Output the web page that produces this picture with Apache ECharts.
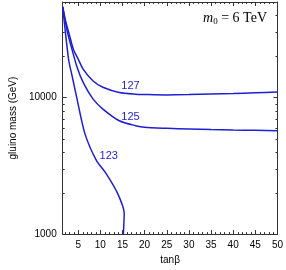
<!DOCTYPE html>
<html>
<head>
<meta charset="utf-8">
<script src="https://cdn.jsdelivr.net/npm/echarts@6/dist/echarts.min.js"></script>
<style>html,body{margin:0;padding:0;background:#fff;}#c{width:286px;height:270px;}</style>
</head>
<body>
<div id="c"></div>
<script>
// ---- data ----
const X_MIN = 1.5, X_MAX = 50;
const Y_MIN = 1000, Y_MAX = 50000;
const xLabels = [5, 10, 15, 20, 25, 30, 35, 40, 45, 50];
const xMinor = [2,3,4,6,7,8,9,11,12,13,14,16,17,18,19,21,22,23,24,26,27,28,29,31,32,33,34,36,37,38,39,41,42,43,44,46,47,48,49];
const yMinor = [2000,3000,4000,5000,6000,7000,8000,9000,20000,30000,40000];

const m127x = [1.5, 2.1, 3, 3.94, 5, 6.15, 8.37, 10.58, 14.28, 17.9, 20, 25, 30, 35, 40, 45, 50];
const m127y = [46000, 37000, 28800, 22400, 19100, 16050, 13200, 11880, 10870, 10570, 10520, 10450, 10500, 10600, 10700, 10820, 10950];
const m125x = [1.5, 2.45, 3.2, 4.67, 6.15, 8.37, 10.58, 14.28, 17.96, 20, 25, 30, 35, 40, 45, 50];
const m125y = [46000, 31300, 25080, 16960, 12850, 9720, 8225, 6760, 6220, 6050, 5950, 5880, 5820, 5780, 5750, 5720];
const m123x = [1.5, 2.83, 3.7, 4.6, 6.53, 9.1, 11.31, 13.9, 15.39, 15.2];
const m123y = [46000, 18970, 14000, 10220, 5414, 3464, 2773, 1985, 1421, 1000];

const curveNames = ['127', '125', '123'];
const labelX = [16.8, 16.8, 11.9];
const labelY = [12080, 7194, 3747];

const LINE_COLOR = '#1f1fd2';
const AXIS_COLOR = '#333';

function zip(xs, ys) { return xs.map((x, i) => [x, ys[i]]); }

function minorTickRender(dim) {
  return function (params, api) {
    const v0 = api.value(0), v1 = api.value(1);
    const L = 2;
    let a, b, c;
    if (dim === 'y') {
      a = api.coord([X_MIN, v1]); b = api.coord([X_MAX, v1]);
      const y = Math.round(a[1]) + 0.5;
      c = [
        { type: 'line', shape: { x1: a[0], y1: y, x2: a[0] + L, y2: y } },
        { type: 'line', shape: { x1: b[0] - L, y1: y, x2: b[0], y2: y } }
      ];
    } else {
      a = api.coord([v0, Y_MIN]); b = api.coord([v0, Y_MAX]);
      const x = Math.round(a[0]) + 0.5;
      c = [
        { type: 'line', shape: { x1: x, y1: a[1], x2: x, y2: a[1] - L } },
        { type: 'line', shape: { x1: x, y1: b[1], x2: x, y2: b[1] + L } }
      ];
    }
    c.forEach(e => { e.style = { stroke: AXIS_COLOR, lineWidth: 1 }; e.silent = true; });
    return { type: 'group', children: c };
  };
}

const chart = echarts.init(document.getElementById('c'), null, { renderer: 'canvas' });
const FONT = 'Liberation Sans, Arial, sans-serif';
const SERIF = 'Liberation Serif, DejaVu Serif, serif';

const xBase = {
  type: 'value', min: X_MIN, max: X_MAX, gridIndex: 0,
  splitLine: { show: false },
  axisLine: { show: true, onZero: false, lineStyle: { color: AXIS_COLOR, width: 1 } },
  axisTick: { show: true, inside: true, length: 4, customValues: xLabels, lineStyle: { color: AXIS_COLOR } }
};
const yBase = {
  type: 'log', logBase: 10, min: Y_MIN, max: Y_MAX, gridIndex: 0,
  splitLine: { show: false },
  axisLine: { show: true, onZero: false, lineStyle: { color: AXIS_COLOR, width: 1 } },
  axisTick: { show: true, inside: true, length: 4, lineStyle: { color: AXIS_COLOR } }
};

const option = {
  animation: false,
  backgroundColor: '#fff',
  grid: [{ left: 59, right: 8, top: 2, bottom: 34 }],
  title: {
    text: '{i|m}{s|0}{n| = 6 TeV}',
    right: 14, top: 6,
    textStyle: {
      fontWeight: 'normal',
      rich: {
        i: { fontFamily: SERIF, fontStyle: 'italic', fontWeight: 'normal', fontSize: 14, color: '#000' },
        s: { fontFamily: SERIF, fontWeight: 'normal', fontSize: 9, color: '#000', verticalAlign: 'bottom', padding: [6, 0, 0, 0] },
        n: { fontFamily: SERIF, fontWeight: 'normal', fontSize: 14, color: '#000' }
      }
    }
  },
  xAxis: [
    Object.assign({}, xBase, {
      position: 'bottom',
      name: 'tanβ', nameLocation: 'middle', nameGap: 20,
      nameTextStyle: { fontFamily: FONT, fontSize: 10, color: '#000' },
      axisLabel: { show: true, customValues: xLabels, margin: 6, fontFamily: FONT, fontSize: 10, color: '#000' }
    }),
    Object.assign({}, xBase, { position: 'top', axisLabel: { show: false } })
  ],
  yAxis: [
    Object.assign({}, yBase, {
      position: 'left',
      name: 'gluino mass (GeV)', nameLocation: 'middle', nameGap: 44, nameRotate: 90,
      nameTextStyle: { fontFamily: FONT, fontSize: 10, color: '#000' },
      axisLabel: { show: true, margin: 6, showMaxLabel: false, fontFamily: FONT, fontSize: 10, color: '#000',
        formatter: v => String(Math.round(v)) }
    }),
    Object.assign({}, yBase, { position: 'right', axisLabel: { show: false } })
  ],
  series: [
    { type: 'custom', xAxisIndex: 0, yAxisIndex: 0, renderItem: minorTickRender('y'), data: yMinor.map(v => [X_MIN, v]), silent: true, z: 1 },
    { type: 'custom', xAxisIndex: 0, yAxisIndex: 0, renderItem: minorTickRender('x'), data: xMinor.map(v => [v, Y_MIN]), silent: true, z: 1 },
    ...[zip(m127x, m127y), zip(m125x, m125y), zip(m123x, m123y)].map((d, i) => ({
      type: 'line', name: curveNames[i], data: d, xAxisIndex: 0, yAxisIndex: 0,
      showSymbol: false, smooth: 0.25, clip: true,
      lineStyle: { color: LINE_COLOR, width: 1.5 },
      markPoint: {
        symbol: 'circle', symbolSize: 0, silent: true,
        label: { show: true, position: 'inside', formatter: curveNames[i], color: LINE_COLOR, fontFamily: FONT, fontSize: 11 },
        data: [{ coord: [labelX[i], labelY[i]] }]
      }
    }))
  ]
};
chart.setOption(option);
</script>
</body>
</html>
